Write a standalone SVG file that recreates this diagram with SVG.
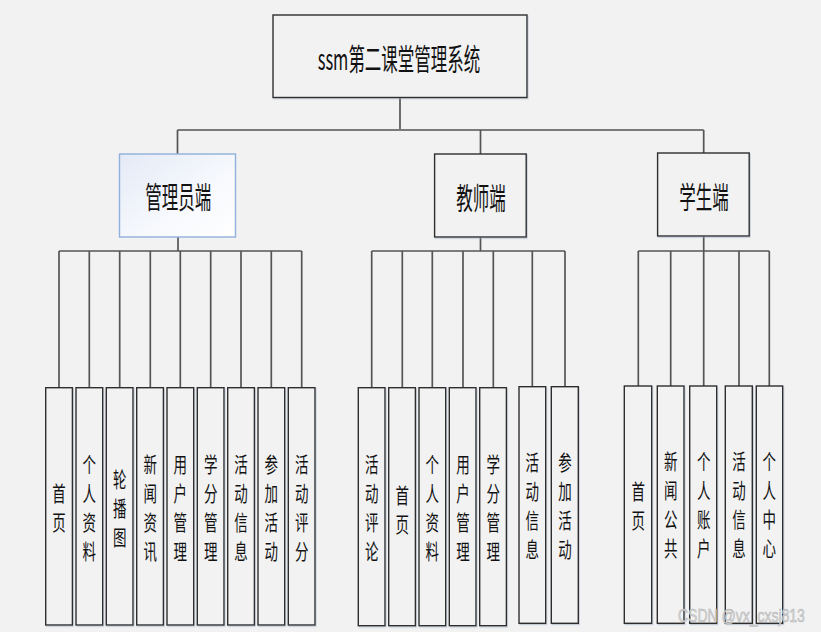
<svg xmlns="http://www.w3.org/2000/svg" width="821" height="632" viewBox="0 0 821 632">
<defs>
<linearGradient id="adminFill" x1="0" y1="0" x2="1" y2="1">
<stop offset="0" stop-color="#e4eaf6"/>
<stop offset="0.6" stop-color="#f7f9fd"/>
<stop offset="1" stop-color="#ffffff"/>
</linearGradient>
<filter id="sh" x="-10%" y="-10%" width="130%" height="130%">
<feDropShadow dx="0.8" dy="1.2" stdDeviation="0.6" flood-color="#9aa6bb" flood-opacity="0.5"/>
</filter>
</defs>
<style>
.box{fill:#f2f2f2;stroke:#2e2e2e;stroke-width:1.4;filter:url(#sh)}
.admin{fill:url(#adminFill);stroke:#8fb1dc;stroke-width:1.4}
.conn line{stroke:#555555;stroke-width:1.7;fill:none}
.t{font-family:"Noto Sans CJK SC","Liberation Sans",sans-serif;fill:#111111;text-anchor:middle;dominant-baseline:central}
.big{font-size:16.5px}
.v{font-size:13.5px}
.wm{font-family:"Liberation Sans","Noto Sans",sans-serif;font-size:14px;fill:#d4d4d4;stroke:#b4b4b4;stroke-width:0.4}
</style>
<rect x="0" y="0" width="821" height="632" fill="#f2f2f2"/>

<g id="connectors" class="conn">
<line x1="400" y1="97.5" x2="400" y2="130"/>
<line x1="177.5" y1="130" x2="703.7" y2="130" style="stroke:#7a7a7a;stroke-width:2"/>
<line x1="177.5" y1="130" x2="177.5" y2="154"/>
<line x1="480.5" y1="130" x2="480.5" y2="154"/>
<line x1="703.7" y1="130" x2="703.7" y2="153"/>
<!-- admin -->
<line x1="178" y1="237" x2="178" y2="251"/>
<line x1="59" y1="251" x2="301.7" y2="251"/>
<line x1="59" y1="251" x2="59" y2="387.7"/>
<line x1="89.3" y1="251" x2="89.3" y2="387.7"/>
<line x1="119.7" y1="251" x2="119.7" y2="387.7"/>
<line x1="150.3" y1="251" x2="150.3" y2="387.7"/>
<line x1="180.3" y1="251" x2="180.3" y2="387.7"/>
<line x1="210.7" y1="251" x2="210.7" y2="387.7"/>
<line x1="241" y1="251" x2="241" y2="387.7"/>
<line x1="271.3" y1="251" x2="271.3" y2="387.7"/>
<line x1="301.7" y1="251" x2="301.7" y2="387.7"/>
<!-- teacher -->
<line x1="480.5" y1="237" x2="480.5" y2="251"/>
<line x1="371.7" y1="251" x2="565" y2="251"/>
<line x1="371.7" y1="251" x2="371.7" y2="387.7"/>
<line x1="402.3" y1="251" x2="402.3" y2="387.7"/>
<line x1="432.3" y1="251" x2="432.3" y2="387.7"/>
<line x1="463" y1="251" x2="463" y2="387.7"/>
<line x1="493.3" y1="251" x2="493.3" y2="387.7"/>
<line x1="532.3" y1="251" x2="532.3" y2="386.7"/>
<line x1="565" y1="251" x2="565" y2="386.7"/>
<!-- student -->
<line x1="703.7" y1="236" x2="703.7" y2="251"/>
<line x1="638.3" y1="251" x2="769.3" y2="251"/>
<line x1="638.3" y1="251" x2="638.3" y2="386"/>
<line x1="670.7" y1="251" x2="670.7" y2="386"/>
<line x1="703.7" y1="251" x2="703.7" y2="386"/>
<line x1="739" y1="251" x2="739" y2="386"/>
<line x1="769.3" y1="251" x2="769.3" y2="386"/>
</g>

<g id="root">
<rect class="box" x="273" y="15" width="254" height="82.5"/>
<text class="t big" transform="translate(399,57) scale(1,1.8)">ssm第二课堂管理系统</text>
</g>

<g id="admin">
<rect class="admin" x="119.5" y="154" width="116" height="83"/>
<text class="t big" transform="translate(178.3,195) scale(1,1.8)">管理员端</text>
</g>
<g id="teacher">
<rect class="box" x="434.6" y="154" width="91.6" height="83"/>
<text class="t big" transform="translate(481,196) scale(1,1.8)">教师端</text>
</g>
<g id="student">
<rect class="box" x="657.6" y="153" width="91.6" height="83"/>
<text class="t big" transform="translate(704,195.5) scale(1,1.8)">学生端</text>
</g>

<!-- admin leaves -->
<g id="a1"><rect class="box" x="45.7" y="387.7" width="26.7" height="237.3"/>
<text class="t v" transform="translate(59,506.3) scale(1,1.55)"><tspan x="0" y="-9.35">首</tspan><tspan x="0" y="9.35">页</tspan></text></g>
<g id="a2"><rect class="box" x="76" y="387.7" width="26.7" height="237.3"/>
<text class="t v" transform="translate(89.3,506.3) scale(1,1.55)"><tspan x="0" y="-28.05">个</tspan><tspan x="0" y="-9.35">人</tspan><tspan x="0" y="9.35">资</tspan><tspan x="0" y="28.05">料</tspan></text></g>
<g id="a3"><rect class="box" x="106.3" y="387.7" width="26.7" height="237.3"/>
<text class="t v" transform="translate(119.7,506.3) scale(1,1.55)"><tspan x="0" y="-18.7">轮</tspan><tspan x="0" y="0">播</tspan><tspan x="0" y="18.7">图</tspan></text></g>
<g id="a4"><rect class="box" x="136.7" y="387.7" width="26.7" height="237.3"/>
<text class="t v" transform="translate(150.3,506.3) scale(1,1.55)"><tspan x="0" y="-28.05">新</tspan><tspan x="0" y="-9.35">闻</tspan><tspan x="0" y="9.35">资</tspan><tspan x="0" y="28.05">讯</tspan></text></g>
<g id="a5"><rect class="box" x="167" y="387.7" width="26.7" height="237.3"/>
<text class="t v" transform="translate(180.3,506.3) scale(1,1.55)"><tspan x="0" y="-28.05">用</tspan><tspan x="0" y="-9.35">户</tspan><tspan x="0" y="9.35">管</tspan><tspan x="0" y="28.05">理</tspan></text></g>
<g id="a6"><rect class="box" x="197.3" y="387.7" width="26.7" height="237.3"/>
<text class="t v" transform="translate(210.7,506.3) scale(1,1.55)"><tspan x="0" y="-28.05">学</tspan><tspan x="0" y="-9.35">分</tspan><tspan x="0" y="9.35">管</tspan><tspan x="0" y="28.05">理</tspan></text></g>
<g id="a7"><rect class="box" x="227.7" y="387.7" width="26.7" height="237.3"/>
<text class="t v" transform="translate(241,506.3) scale(1,1.55)"><tspan x="0" y="-28.05">活</tspan><tspan x="0" y="-9.35">动</tspan><tspan x="0" y="9.35">信</tspan><tspan x="0" y="28.05">息</tspan></text></g>
<g id="a8"><rect class="box" x="258" y="387.7" width="26.7" height="237.3"/>
<text class="t v" transform="translate(271.3,506.3) scale(1,1.55)"><tspan x="0" y="-28.05">参</tspan><tspan x="0" y="-9.35">加</tspan><tspan x="0" y="9.35">活</tspan><tspan x="0" y="28.05">动</tspan></text></g>
<g id="a9"><rect class="box" x="288.3" y="387.7" width="26.7" height="237.3"/>
<text class="t v" transform="translate(301.7,506.3) scale(1,1.55)"><tspan x="0" y="-28.05">活</tspan><tspan x="0" y="-9.35">动</tspan><tspan x="0" y="9.35">评</tspan><tspan x="0" y="28.05">分</tspan></text></g>

<!-- teacher leaves -->
<g id="t1"><rect class="box" x="358.3" y="387.7" width="26.7" height="238"/>
<text class="t v" transform="translate(371.7,506) scale(1,1.55)"><tspan x="0" y="-28.05">活</tspan><tspan x="0" y="-9.35">动</tspan><tspan x="0" y="9.35">评</tspan><tspan x="0" y="28.05">论</tspan></text></g>
<g id="t2"><rect class="box" x="388.7" y="387.7" width="26.7" height="238"/>
<text class="t v" transform="translate(402.3,508) scale(1,1.55)"><tspan x="0" y="-9.35">首</tspan><tspan x="0" y="9.35">页</tspan></text></g>
<g id="t3"><rect class="box" x="419" y="387.7" width="26.7" height="238"/>
<text class="t v" transform="translate(432.3,506) scale(1,1.55)"><tspan x="0" y="-28.05">个</tspan><tspan x="0" y="-9.35">人</tspan><tspan x="0" y="9.35">资</tspan><tspan x="0" y="28.05">料</tspan></text></g>
<g id="t4"><rect class="box" x="449.3" y="387.7" width="26.7" height="238"/>
<text class="t v" transform="translate(463,506) scale(1,1.55)"><tspan x="0" y="-28.05">用</tspan><tspan x="0" y="-9.35">户</tspan><tspan x="0" y="9.35">管</tspan><tspan x="0" y="28.05">理</tspan></text></g>
<g id="t5"><rect class="box" x="479.7" y="387.7" width="26.7" height="238"/>
<text class="t v" transform="translate(493.3,506) scale(1,1.55)"><tspan x="0" y="-28.05">学</tspan><tspan x="0" y="-9.35">分</tspan><tspan x="0" y="9.35">管</tspan><tspan x="0" y="28.05">理</tspan></text></g>
<g id="t6"><rect class="box" x="519" y="386.7" width="26.7" height="236.6"/>
<text class="t v" transform="translate(532.3,504) scale(1,1.55)"><tspan x="0" y="-28.05">活</tspan><tspan x="0" y="-9.35">动</tspan><tspan x="0" y="9.35">信</tspan><tspan x="0" y="28.05">息</tspan></text></g>
<g id="t7"><rect class="box" x="551.3" y="386.7" width="27" height="236.6"/>
<text class="t v" transform="translate(565,504) scale(1,1.55)"><tspan x="0" y="-28.05">参</tspan><tspan x="0" y="-9.35">加</tspan><tspan x="0" y="9.35">活</tspan><tspan x="0" y="28.05">动</tspan></text></g>

<!-- student leaves -->
<g id="s1"><rect class="box" x="624.3" y="386" width="27.4" height="237.3"/>
<text class="t v" transform="translate(638.3,504) scale(1,1.55)"><tspan x="0" y="-9.35">首</tspan><tspan x="0" y="9.35">页</tspan></text></g>
<g id="s2"><rect class="box" x="657.3" y="386" width="26.7" height="237.3"/>
<text class="t v" transform="translate(670.7,503) scale(1,1.55)"><tspan x="0" y="-28.05">新</tspan><tspan x="0" y="-9.35">闻</tspan><tspan x="0" y="9.35">公</tspan><tspan x="0" y="28.05">共</tspan></text></g>
<g id="s3"><rect class="box" x="689.7" y="386" width="27" height="237.3"/>
<text class="t v" transform="translate(703.7,503) scale(1,1.55)"><tspan x="0" y="-28.05">个</tspan><tspan x="0" y="-9.35">人</tspan><tspan x="0" y="9.35">账</tspan><tspan x="0" y="28.05">户</tspan></text></g>
<g id="s4"><rect class="box" x="725.3" y="386" width="27" height="237.3"/>
<text class="t v" transform="translate(739,503) scale(1,1.55)"><tspan x="0" y="-28.05">活</tspan><tspan x="0" y="-9.35">动</tspan><tspan x="0" y="9.35">信</tspan><tspan x="0" y="28.05">息</tspan></text></g>
<g id="s5"><rect class="box" x="756.3" y="386" width="26.4" height="237.3"/>
<text class="t v" transform="translate(769.3,503) scale(1,1.55)"><tspan x="0" y="-28.05">个</tspan><tspan x="0" y="-9.35">人</tspan><tspan x="0" y="9.35">中</tspan><tspan x="0" y="28.05">心</tspan></text></g>

<text class="wm" transform="translate(678,622) scale(1,1.3)" x="0" y="0">CSDN @vx_cxsj813</text>
</svg>
